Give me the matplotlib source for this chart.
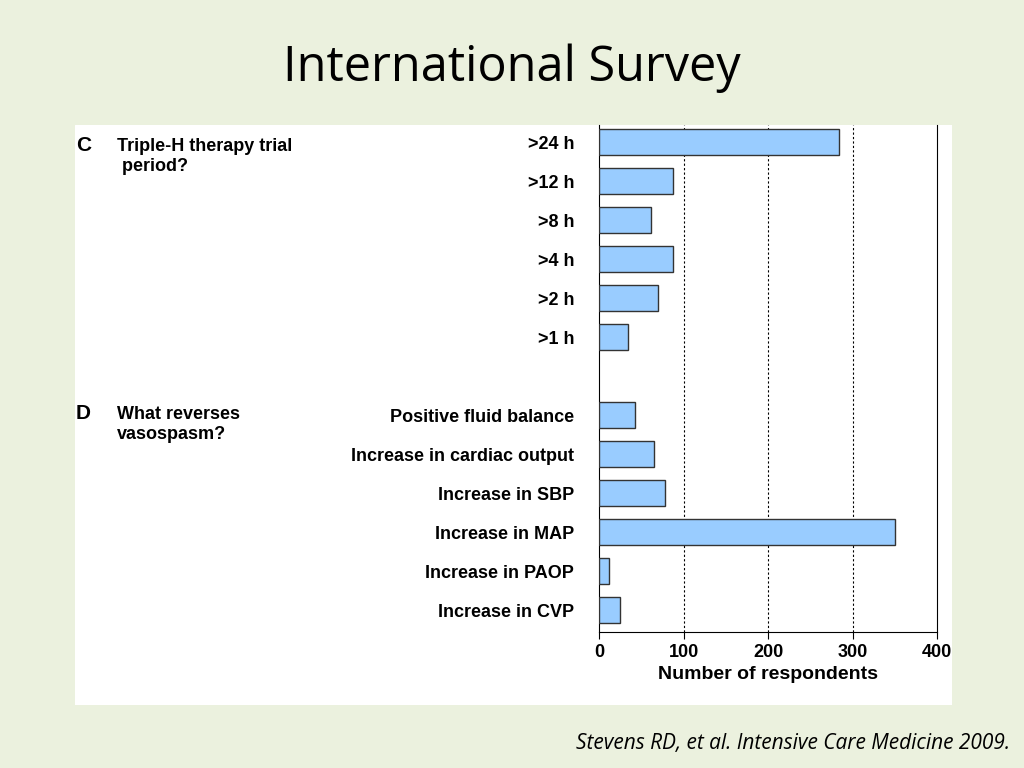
import matplotlib
matplotlib.use("Agg")
import matplotlib.pyplot as plt

cats_c = [">24 h", ">12 h", ">8 h", ">4 h", ">2 h", ">1 h"]
vals_c = [284, 88, 62, 88, 70, 34]
cats_d = ["Positive fluid balance", "Increase in cardiac output", "Increase in SBP",
          "Increase in MAP", "Increase in PAOP", "Increase in CVP"]
vals_d = [43, 65, 78, 350, 12, 25]
xticks = [0, 100, 200, 300, 400]

bg = "#EBF1DE"
fig = plt.figure(figsize=(10.24, 7.68), dpi=100, facecolor=bg)
bgax = fig.add_axes([75/1024, 1-705/768, 877/1024, 580/768], zorder=0)
bgax.set_facecolor("white")
bgax.axis("off")
bgax.add_patch(plt.Rectangle((0, 0), 1, 1, color="white", transform=bgax.transAxes))

fig.text(0.5, 1-68/768, "International Survey", ha="center", va="center",
         fontsize=35, family="Open Sans")
fig.text(1010/1024, 1-744/768, "Stevens RD, et al. Intensive Care Medicine 2009.",
         ha="right", va="center", fontsize=15, style="italic", family="Open Sans")

ax = fig.add_axes([599/1024, 1-632/768, 338/1024, 507/768], zorder=2)
ax.set_facecolor("none")
pos_c = list(range(6))
pos_d = list(range(7, 13))
kw = dict(height=0.68, color="#99CCFF", edgecolor="#333333", linewidth=1, zorder=3)
ax.barh(pos_c, vals_c, **kw)
ax.barh(pos_d, vals_d, **kw)
ax.set_ylim(12.56, -0.44)
ax.set_xlim(0, 400)
ax.set_yticks(pos_c + pos_d)
ax.set_yticklabels(cats_c + cats_d, fontsize=13, fontweight="bold", family="Liberation Sans")
ax.set_xticks(xticks)
ax.set_xticklabels([str(x) for x in xticks], fontsize=13, fontweight="bold", family="Liberation Sans")
ax.set_xlabel("Number of respondents", fontsize=14, fontweight="bold", family="Liberation Sans")
for x in xticks[1:-1]:
    ax.axvline(x, color="black", linestyle=(0, (2, 2)), linewidth=0.8, zorder=1)
ax.spines["top"].set_visible(False)
ax.tick_params(axis="y", length=0, pad=18)
ax.tick_params(axis="x", length=5)

tk = dict(fontsize=13, fontweight="bold", family="Liberation Sans", va="top", zorder=3)
fig.text(76/1024, 1-136/768, "C", fontsize=15, fontweight="bold", family="Liberation Sans", va="top", zorder=3)
fig.text(117/1024, 1-138/768, "Triple-H therapy trial\n period?", linespacing=1.2, **tk)
fig.text(76/1024, 1-404/768, "D", fontsize=15, fontweight="bold", family="Liberation Sans", va="top", zorder=3)
fig.text(117/1024, 1-406/768, "What reverses\nvasospasm?", linespacing=1.2, **tk)

fig.savefig("out.png", dpi=100, facecolor=bg)
